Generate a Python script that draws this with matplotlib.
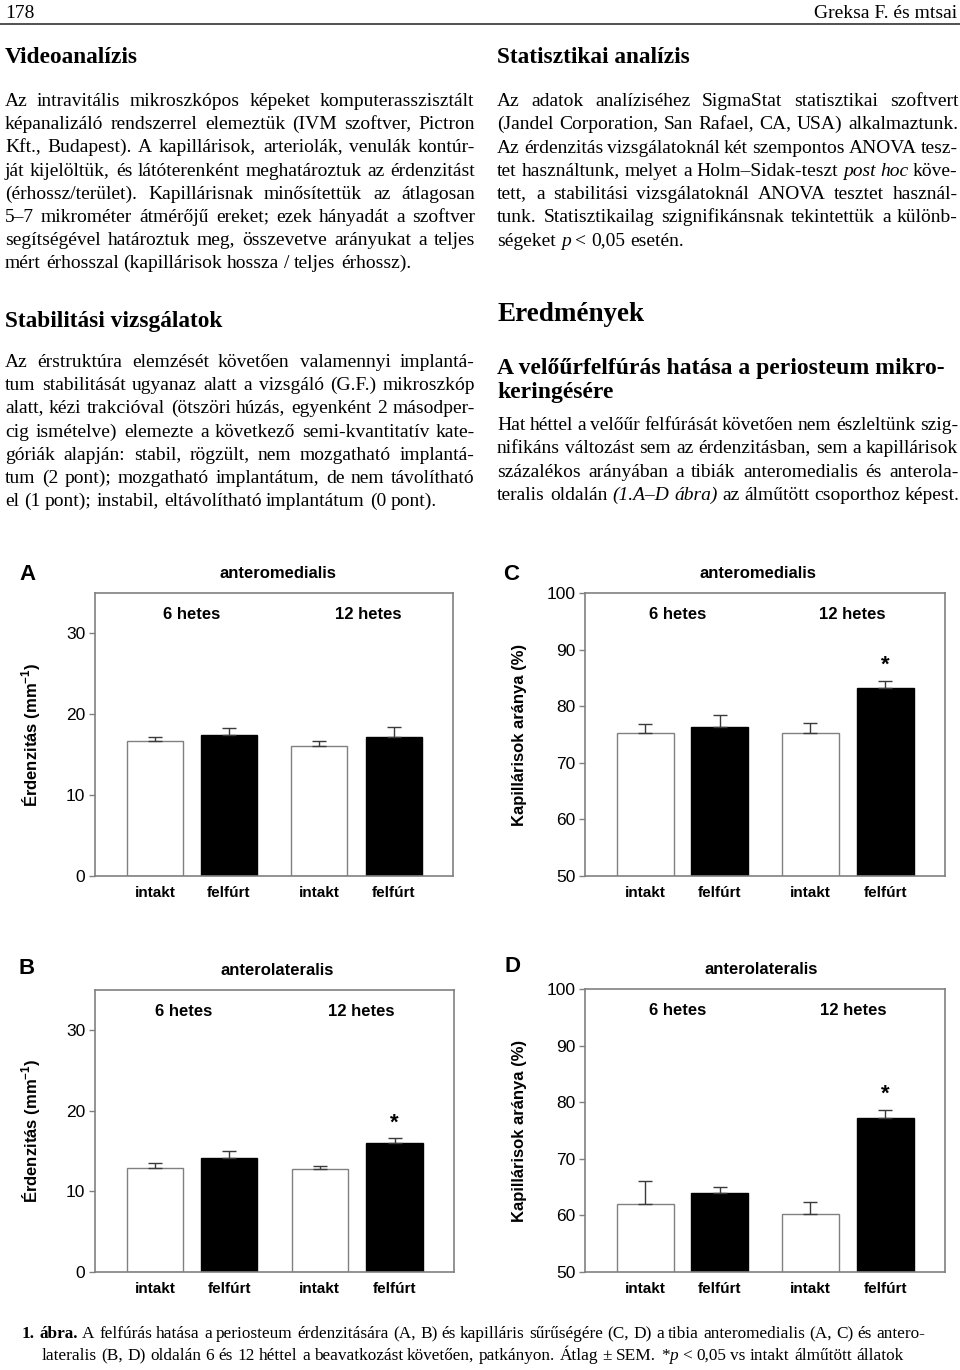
import re
import math
import numpy as np
import matplotlib
matplotlib.use("Agg")
import matplotlib.pyplot as plt
from matplotlib.transforms import IdentityTransform

plt.rcParams['mathtext.fontset'] = 'custom'
plt.rcParams['mathtext.rm'] = 'Liberation Sans'
plt.rcParams['mathtext.bf'] = 'Liberation Sans:bold'

W, H = 960, 1370
DPI = 100

# ---- chart data ----
groups = ['intakt', 'felfúrt', 'intakt', 'felfúrt']
weeks = ['6 hetes', '12 hetes']

A_mean = [16.7, 17.4, 16.1, 17.15]
A_err = [0.5, 0.85, 0.55, 1.3]
A_sig = [0, 0, 0, 0]

B_mean = [12.95, 14.1, 12.8, 15.95]
B_err = [0.55, 0.9, 0.4, 0.65]
B_sig = [0, 0, 0, 1]

C_mean = [75.3, 76.3, 75.2, 83.2]
C_err = [1.5, 2.1, 1.9, 1.3]
C_sig = [0, 0, 0, 1]

D_mean = [62.0, 63.9, 60.2, 77.2]
D_err = [4.0, 1.1, 2.2, 1.5]
D_sig = [0, 0, 0, 1]

# ---- page text ----
left1 = [
    "Az intravitális mikroszkópos képeket komputerasszisztált",
    "képanalizáló rendszerrel elemeztük (IVM szoftver, Pictron",
    "Kft., Budapest). A kapillárisok, arteriolák, venulák kontúr-",
    "ját kijelöltük, és látóterenként meghatároztuk az érdenzitást",
    "(érhossz/terület). Kapillárisnak minősítettük az átlagosan",
    "5–7 mikrométer átmérőjű ereket; ezek hányadát a szoftver",
    "segítségével határoztuk meg, összevetve arányukat a teljes",
    "mért érhosszal (kapillárisok hossza / teljes érhossz).",
]
left2 = [
    "Az érstruktúra elemzését követően valamennyi implantá-",
    "tum stabilitását ugyanaz alatt a vizsgáló (G.F.) mikroszkóp",
    "alatt, kézi trakcióval (ötszöri húzás, egyenként 2 másodper-",
    "cig ismételve) elemezte a következő semi-kvantitatív kate-",
    "góriák alapján: stabil, rögzült, nem mozgatható implantá-",
    "tum (2 pont); mozgatható implantátum, de nem távolítható",
    "el (1 pont); instabil, eltávolítható implantátum (0 pont).",
]
right1 = [
    "Az adatok analíziséhez SigmaStat statisztikai szoftvert",
    "(Jandel Corporation, San Rafael, CA, USA) alkalmaztunk.",
    "Az érdenzitás vizsgálatoknál két szempontos ANOVA tesz-",
    "tet használtunk, melyet a Holm–Sidak-teszt {post} {hoc} köve-",
    "tett, a stabilitási vizsgálatoknál ANOVA tesztet használ-",
    "tunk. Statisztikailag szignifikánsnak tekintettük a különb-",
    "ségeket {p} < 0,05 esetén.",
]
right2 = [
    "Hat héttel a velőűr felfúrását követően nem észleltünk szig-",
    "nifikáns változást sem az érdenzitásban, sem a kapillárisok",
    "százalékos arányában a tibiák anteromedialis és anterola-",
    "teralis oldalán {(1.A–D} {ábra)} az álműtött csoporthoz képest.",
]
caption = [
    "[1.] [ábra.] A felfúrás hatása a periosteum érdenzitására (A, B) és kapilláris sűrűségére (C, D) a tibia anteromedialis (A, C) és antero-",
    "lateralis (B, D) oldalán 6 és 12 héttel a beavatkozást követően, patkányon. Átlag ± SEM. *{p} < 0,05 vs intakt álműtött állatok",
]

fig = plt.figure(figsize=(W / DPI, H / DPI), dpi=DPI)
renderer = fig.canvas.get_renderer()
SERIF = 'Liberation Serif'
SANS = 'Liberation Sans'


def segments(word):
    out = []
    for m in re.finditer(r'\{([^}]*)\}|\[([^\]]*)\]|([^{\[]+)', word):
        if m.group(1) is not None:
            out.append((m.group(1), 'normal', 'italic'))
        elif m.group(2) is not None:
            out.append((m.group(2), 'bold', 'normal'))
        else:
            out.append((m.group(3), 'normal', 'normal'))
    return out


def put(x, y, s, size, weight='normal', style='normal', ha='left', family=SERIF):
    t = fig.text(x, round(H - y), s, fontsize=size, fontweight=weight, fontstyle=style,
                 family=family, ha=ha, va='baseline', transform=IdentityTransform())
    # keep baselines on the same pixel row (agg rounds each string on its own)
    _, h, d = renderer.get_text_width_height_descent(s, t.get_fontproperties(), ismath=False)
    a = (h - d) - math.floor(h - d)
    f = d - math.floor(d)
    e = int(f >= 0.5) - int(a + f >= 1)
    t.set_y(round(H - y) + e)
    return t


def build(line, y, size):
    items = []
    for w in line.split(' '):
        parts = []
        wtot = 0
        for txt, wt, st in segments(w):
            t = put(0, y, txt, size, wt, st)
            bw_ = t.get_window_extent(renderer).width
            parts.append((t, bw_))
            wtot += bw_
        items.append((parts, wtot))
    return items


def draw_line(x0, x1, y, line, size, justify):
    n = len(line.split(' '))
    while True:
        items = build(line, y, size)
        total = sum(i[1] for i in items)
        space = size * DPI / 72 * 0.25
        if not justify or n < 2 or (x1 - x0 - total) / (n - 1) >= 0.45 * space:
            break
        for parts, _ in items:
            for t, _b in parts:
                t.remove()
        size *= 0.985
    if justify and n > 1:
        space = (x1 - x0 - total) / (n - 1)
    x = x0
    for parts, wtot in items:
        xx = x
        for t, bw_ in parts:
            t.set_x(round(xx))
            xx += bw_
        x += wtot + space


def paragraph(x0, x1, y0, dy, lines, size=14):
    for i, ln in enumerate(lines):
        draw_line(x0, x1, y0 + i * dy, ln, size, justify=(i < len(lines) - 1))


# header
put(5, 18, "178", 14)
put(957, 18, "Greksa F. és mtsai", 14, ha='right')
fig.add_artist(plt.Line2D([0, W], [H - 24, H - 24], transform=IdentityTransform(),
                          color='#333333', lw=1.2))

put(5, 63, "Videoanalízis", 16.8, 'bold')
paragraph(5, 475, 106, 23.2, left1)
put(5, 327, "Stabilitási vizsgálatok", 16.8, 'bold')
paragraph(5, 475, 367, 23.2, left2)

put(497, 63, "Statisztikai analízis", 16.8, 'bold')
paragraph(497, 958, 106, 23.3, right1)
put(497, 321, "Eredmények", 19.5, 'bold')
put(497, 374, "A velőűrfelfúrás hatása a periosteum mikro-", 17, 'bold')
put(497, 398, "keringésére", 17, 'bold')
paragraph(497, 958, 430, 23.3, right2)

draw_line(22, 925, 1338, caption[0], 12.4, True)
draw_line(42, 925, 1360, caption[1], 12.4, False)

# ---- charts ----
pos = np.array([1.0, 2.0, 3.22, 4.23])
bw = 0.76
GRAY = '#808080'


def panel(rect, letter, letter_xy, title, title_x, week_x, mean, err, sig,
          ylim, yticks, ylabel, ylab_x):
    ax = fig.add_axes(rect)
    colors = ['white', 'black', 'white', 'black']
    edges = [GRAY, 'black', GRAY, 'black']
    ax.bar(pos, mean, bw, color=colors, edgecolor=edges, linewidth=1.0, zorder=2)
    ax.errorbar(pos, mean, yerr=[np.zeros(4), err], fmt='none', ecolor='#3a3a3a',
                elinewidth=1.0, capsize=5, capthick=1.0, zorder=3)
    rng = ylim[1] - ylim[0]
    for p, m, e, s in zip(pos, mean, err, sig):
        if s:
            ax.text(p, m + e + 0.055 * rng, '*', ha='center', va='center',
                    fontsize=16, fontweight='bold', family=SANS)
    ax.set_xlim(0.19, 5.03)
    ax.set_ylim(*ylim)
    ax.set_yticks(yticks)
    ax.set_xticks(pos)
    ax.set_xticklabels(groups, fontsize=11, fontweight='bold', family=SANS)
    ax.tick_params(axis='x', length=0, pad=7)
    ax.tick_params(axis='y', length=4, width=1, color=GRAY, pad=3, labelsize=12.5)
    for lab in ax.get_yticklabels():
        lab.set_family(SANS)
    for sp in ax.spines.values():
        sp.set_color(GRAY)
        sp.set_linewidth(1.2)
    ax.set_ylabel(ylabel, fontsize=12, fontweight='bold', family=SANS)
    ax.yaxis.set_label_coords(ylab_x, 0.5)
    ax.text(title_x, 1.068, title, transform=ax.transAxes, ha='center', va='center',
            fontsize=12, fontweight='bold', family=SANS)
    for wx, wl in zip(week_x, weeks):
        ax.text(wx, 0.925, wl, transform=ax.transAxes, ha='center', va='center',
                fontsize=12, fontweight='bold', family=SANS)
    fig.text(letter_xy[0] / W, 1 - letter_xy[1] / H, letter, ha='center', va='center',
             fontsize=16, fontweight='bold', family=SANS)
    return ax


erd_lab = 'Érdenzitás (mm$^{\\mathbf{-1}}$)'
kap_lab = 'Kapillárisok aránya (%)'

panel([95 / W, 1 - 876 / H, 358 / W, 283 / H], 'A', (28, 575), 'anteromedialis', 0.51,
      (0.271, 0.763), A_mean, A_err, A_sig, (0, 35), [0, 10, 20, 30], erd_lab, -0.145)
panel([585 / W, 1 - 876 / H, 360 / W, 283 / H], 'C', (511, 575), 'anteromedialis', 0.48,
      (0.256, 0.742), C_mean, C_err, C_sig, (50, 100), [50, 60, 70, 80, 90, 100],
      kap_lab, -0.16)
panel([95 / W, 1 - 1272 / H, 359 / W, 282 / H], 'B', (27, 968), 'anterolateralis', 0.507,
      (0.248, 0.741), B_mean, B_err, B_sig, (0, 35), [0, 10, 20, 30], erd_lab, -0.145)
panel([585 / W, 1 - 1272 / H, 360 / W, 283 / H], 'D', (512, 967), 'anterolateralis', 0.49,
      (0.256, 0.744), D_mean, D_err, D_sig, (50, 100), [50, 60, 70, 80, 90, 100],
      kap_lab, -0.16)

fig.savefig('out.png', dpi=DPI)
